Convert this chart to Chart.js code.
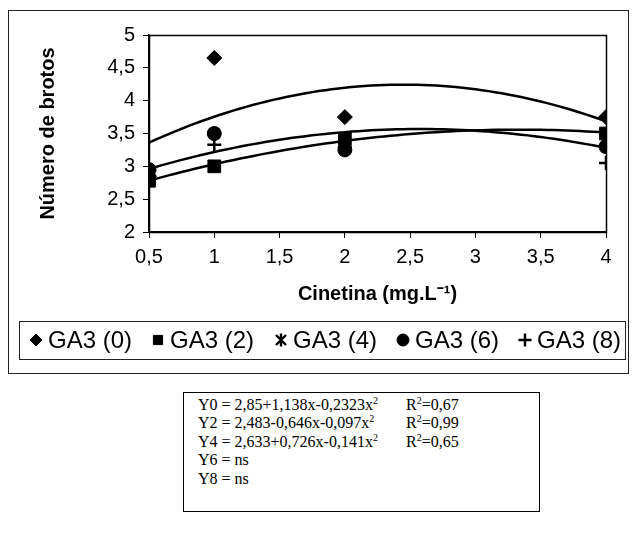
<!DOCTYPE html>
<html>
<head>
<meta charset="utf-8">
<script src="https://cdn.jsdelivr.net/npm/chart.js@4/dist/chart.umd.min.js"></script>
<style>
  html, body { margin: 0; padding: 0; background: #fff; }
  #page { position: relative; width: 632px; height: 539px; overflow: hidden; }
  #frame { position: absolute; left: 8px; top: 10px; width: 619px; height: 362px; border: 1px solid #222; box-sizing: content-box; }
  #chartWrap { position: absolute; left: 0; top: 0; width: 632px; height: 380px; }
  #eqBox {
    position: absolute; left: 183px; top: 392px; width: 355px; height: 118px;
    border: 1px solid #000; font-family: "Liberation Serif", "Times New Roman", serif;
    font-size: 16px; color: #000; box-sizing: content-box;
  }
  .eq { position: absolute; left: 14px; white-space: nowrap; line-height: 18px; }
  .r2 { position: absolute; left: 222px; white-space: nowrap; line-height: 18px; }
  sup { font-size: 10px; vertical-align: 6px; line-height: 0; }
</style>
</head>
<body>
<div id="page">
  <div id="frame"></div>
  <div id="chartWrap"><canvas id="c" width="632" height="380"></canvas></div>
  <div id="eqBox"></div>
</div>
<script>
// Cinetina doses (mg.L-1)
const doses = [0.5, 1, 2, 4];

// Mean number of shoots for each GA3 level
const ga3_0 = [2.85, 4.65, 3.75, 3.75];
const ga3_2 = [2.78, 3.00, 3.42, 3.50];
const ga3_4 = [2.90, 3.50, 3.35, 3.30];
const ga3_6 = [2.95, 3.50, 3.25, 3.30];
const ga3_8 = [2.85, 3.33, 3.30, 3.05];

const seriesNames = ['GA3 (0)', 'GA3 (2)', 'GA3 (4)', 'GA3 (6)', 'GA3 (8)'];

// Quadratic regression coefficients [a, b, c] for y = a + b*x + c*x^2
const fit0 = [2.85, 1.138, -0.2323];
const fit2 = [2.483, 0.646, -0.097];
const fit4 = [2.633, 0.726, -0.141];

// Axis tick labels
const xTicks = [0.5, 1, 1.5, 2, 2.5, 3, 3.5, 4];
const xTickLabels = ['0,5', '1', '1,5', '2', '2,5', '3', '3,5', '4'];
const yTicks = [2, 2.5, 3, 3.5, 4, 4.5, 5];
const yTickLabels = ['2', '2,5', '3', '3,5', '4', '4,5', '5'];

// Regression equations shown under the chart
const eqLines = [
  ['Y0 = 2,85+1,138x-0,2323x<sup>2</sup>', 'R<sup>2</sup>=0,67'],
  ['Y2 = 2,483-0,646x-0,097x<sup>2</sup>', 'R<sup>2</sup>=0,99'],
  ['Y4 = 2,633+0,726x-0,141x<sup>2</sup>', 'R<sup>2</sup>=0,65'],
  ['Y6 = ns', ''],
  ['Y8 = ns', '']
];

const eqBox = document.getElementById('eqBox');
eqLines.forEach((ln, i) => {
  const top = 3 + i * 18.4;
  const a = document.createElement('div');
  a.className = 'eq'; a.style.top = top + 'px'; a.innerHTML = ln[0];
  eqBox.appendChild(a);
  if (ln[1]) {
    const b = document.createElement('div');
    b.className = 'r2'; b.style.top = top + 'px'; b.innerHTML = ln[1];
    eqBox.appendChild(b);
  }
});

// Asterisk marker: an X crossed by a vertical stroke
function asteriskMarker(size) {
  const cv = document.createElement('canvas');
  cv.width = size; cv.height = size;
  const g = cv.getContext('2d');
  g.strokeStyle = '#000'; g.lineWidth = 2.4; g.lineCap = 'butt';
  const m = 2, s = size - 2;
  g.beginPath();
  g.moveTo(m, m); g.lineTo(s, s);
  g.moveTo(s, m); g.lineTo(m, s);
  g.moveTo(size / 2, 0.5); g.lineTo(size / 2, size - 0.5);
  g.stroke();
  return cv;
}
const asterisk = asteriskMarker(14);

// Trend curve samples over the dose range
function curve(coef) {
  const pts = [];
  for (let i = 0; i <= 70; i++) {
    const x = doses[0] + i * (doses[doses.length - 1] - doses[0]) / 70;
    pts.push({ x: x, y: coef[0] + coef[1] * x + coef[2] * x * x });
  }
  return pts;
}

function pts(ys) { return doses.map((x, i) => ({ x: x, y: ys[i] })); }

const markerStyles = ['rectRot', 'rect', asterisk, 'circle', 'cross'];
const markerRadius = [7.5, 9, 7, 7, 7];
const seriesData = [ga3_0, ga3_2, ga3_4, ga3_6, ga3_8];

const datasets = seriesData.map((d, i) => ({
  label: seriesNames[i],
  data: pts(d),
  showLine: false,
  pointStyle: markerStyles[i],
  pointRadius: markerRadius[i],
  pointHoverRadius: markerRadius[i],
  backgroundColor: '#000',
  borderColor: '#000',
  borderWidth: i === 4 ? 2.5 : 1,
  order: 10 - i
}));

[fit0, fit2, fit4].forEach((f, k) => {
  datasets.push({
    label: 'trend' + k,
    data: curve(f),
    showLine: true,
    pointRadius: 0,
    borderColor: '#000',
    borderWidth: 2.5,
    fill: false,
    tension: 0,
    order: 0
  });
});

// Frame around the plot area, plus the boxed legend row
const frameAndLegend = {
  id: 'frameAndLegend',
  afterDraw(chart, args, opts) {
    const ctx = chart.ctx;
    const a = chart.chartArea;
    ctx.save();
    ctx.strokeStyle = '#000';
    ctx.lineWidth = 1.5;
    ctx.strokeRect(Math.round(a.left) + 0.5, Math.round(a.top) + 0.5,
                   Math.round(a.right - a.left), Math.round(a.bottom - a.top));

    const lb = opts.box;
    ctx.lineWidth = 1;
    ctx.strokeStyle = '#222';
    ctx.strokeRect(lb.left + 0.5, lb.top + 0.5, lb.right - lb.left, lb.bottom - lb.top);

    const cy = (lb.top + lb.bottom) / 2;
    ctx.font = opts.font;
    ctx.textBaseline = 'middle';
    ctx.textAlign = 'left';
    ctx.fillStyle = '#000';
    for (let i = 0; i < seriesNames.length; i++) {
      const ds = chart.data.datasets[i];
      const mx = opts.markerX[i];
      ctx.strokeStyle = '#000';
      ctx.fillStyle = '#000';
      ctx.lineWidth = ds.borderWidth;
      Chart.helpers.drawPoint(ctx, {
        pointStyle: ds.pointStyle,
        radius: opts.markerRadius[i],
        rotation: 0,
        borderWidth: ds.borderWidth
      }, mx, cy);
      ctx.fillStyle = '#000';
      ctx.fillText(ds.label, mx + opts.gap, cy + 1);
    }
    ctx.restore();
  }
};

new Chart(document.getElementById('c'), {
  type: 'scatter',
  data: { datasets: datasets },
  plugins: [frameAndLegend],
  options: {
    responsive: false,
    animation: false,
    devicePixelRatio: 1,
    layout: { padding: { left: 36, top: 35, right: 26, bottom: 74 } },
    plugins: {
      tooltip: { enabled: false },
      legend: { display: false },
      frameAndLegend: {
        box: { left: 19, top: 321, right: 625, bottom: 359 },
        font: '24px "Liberation Sans", Arial, sans-serif',
        markerX: [36, 158, 281, 403, 525],
        markerRadius: [6, 6.5, 6, 6, 6.5],
        gap: 12
      }
    },
    scales: {
      x: {
        type: 'linear',
        min: 0.5, max: 4,
        afterBuildTicks: (s) => { s.ticks = xTicks.map(v => ({ value: v })); },
        afterFit: (s) => { s.height = 74; },
        ticks: {
          color: '#000',
          padding: 7,
          autoSkip: false,
          maxRotation: 0,
          font: { family: '"Liberation Sans", Arial, sans-serif', size: 20 },
          callback: (v) => { const i = xTicks.indexOf(v); return i >= 0 ? xTickLabels[i] : ''; }
        },
        grid: { display: true, drawOnChartArea: false, drawTicks: true, tickLength: 6, color: '#000', lineWidth: 1 },
        border: { display: true, color: '#000', width: 1.5 },
        title: {
          display: true,
          text: 'Cinetina (mg.L\u207B\u00B9)',
          color: '#000',
          padding: { top: 1, bottom: 0 },
          font: { family: '"Liberation Sans", Arial, sans-serif', size: 20, weight: 'bold' }
        }
      },
      y: {
        type: 'linear',
        min: 2, max: 5,
        afterBuildTicks: (s) => { s.ticks = yTicks.map(v => ({ value: v })); },
        afterFit: (s) => { s.width = 113; },
        ticks: {
          color: '#000',
          padding: 8,
          autoSkip: false,
          font: { family: '"Liberation Sans", Arial, sans-serif', size: 20 },
          callback: (v) => { const i = yTicks.indexOf(v); return i >= 0 ? yTickLabels[i] : ''; }
        },
        grid: { display: true, drawOnChartArea: false, drawTicks: true, tickLength: 6, color: '#000', lineWidth: 1 },
        border: { display: true, color: '#000', width: 1.5 },
        title: {
          display: true,
          text: 'Número de brotos',
          color: '#000',
          padding: { top: 0, bottom: 10 },
          font: { family: '"Liberation Sans", Arial, sans-serif', size: 20, weight: 'bold' }
        }
      }
    }
  }
});
</script>
</body>
</html>
